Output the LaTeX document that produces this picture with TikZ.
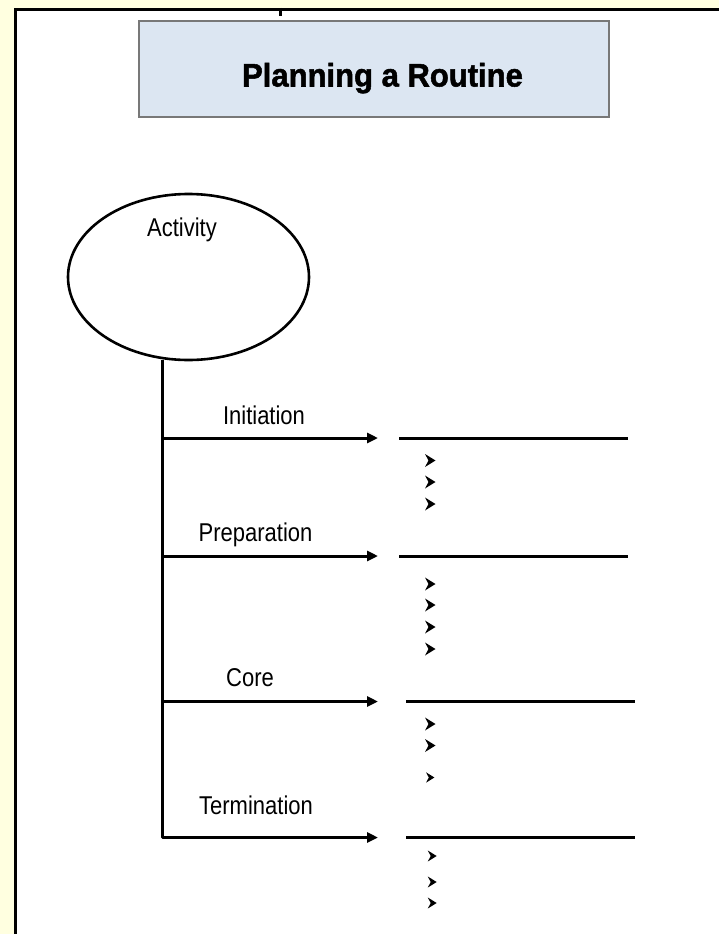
\documentclass[tikz,border=0pt]{standalone}
\usepackage{fontspec}
\setmainfont{Liberation Sans}
\newfontfamily\titlefont[FakeBold=1.6]{Liberation Sans}
\usepackage{graphicx}
\usetikzlibrary{arrows.meta,calc,positioning,shapes.geometric}
\definecolor{bgyellow}{RGB}{255,255,224}
\definecolor{titlefill}{RGB}{220,230,242}
\definecolor{titleedge}{RGB}{120,120,120}
\newcommand{\stretched}[1]{\scalebox{1}[1.17]{#1}}
\tikzset{
	routine/.style={
		x=1pt, y=-1pt,
		every node/.style={inner sep=0pt, outer sep=0pt},
		phase line/.style={line width=3pt, line join=round},
		phase arrow/.style={phase line, -{Triangle[length=11pt,width=10pt]}},
		phase name/.style={anchor=base, font=\fontsize{22}{22}\selectfont},
		title box/.style={draw=titleedge, fill=titlefill, line width=1.5pt,
			minimum width=470, minimum height=96}
		},
	arrowbullet/.pic={\fill (-5,-6.5) -- (5.5,0) -- (-5,6.5) -- (-1.5,0) -- cycle;}
}

\begin{document}
\begin{tikzpicture}[routine]
   \useasboundingbox (0,0) rectangle (719,934);
   % page
   \fill[bgyellow] (0,0) rectangle (719,934);
   \fill[white] (15.5,9.5) rectangle (719,934);
   \draw[line width=3.2pt] (15.5,934) -- (15.5,9.5) -- (719,9.5);
   \draw[line width=3pt] (280,8) -- (280,16);
   % title
   \node[title box] (title) at (374,69) {};
   \node[anchor=base, font=\titlefont\bfseries\fontsize{31}{31}\selectfont] (titletext)
      at (382.5,86.5) {\scalebox{1}[1.05]{Planning a Routine}};
   % activity
   \node[ellipse, draw, line width=2.6pt, minimum width=241, minimum height=166] (act)
      at (188.5,277) {};
   \node[phase name] (actname) at (182,236.5) {\stretched{Activity}};
   % junctions and ends
   \coordinate (iniJ) at (162,438);
   \coordinate (preJ) at (162,556);
   \coordinate (corJ) at (162,701.5);
   \coordinate (terJ) at (162,837.5);
   \coordinate (iniE) at ($(iniJ)+(216,0)$);
   \coordinate (preE) at ($(preJ)+(216,0)$);
   \coordinate (corE) at ($(corJ)+(216,0)$);
   \coordinate (terE) at ($(terJ)+(216,0)$);
   \coordinate (iniL) at (399,438);   \coordinate (iniR) at (628,438);
   \coordinate (preL) at (399,556);   \coordinate (preR) at (628,556);
   \coordinate (corL) at (406,701.5); \coordinate (corR) at (635,701.5);
   \coordinate (terL) at (406,837.5); \coordinate (terR) at (635,837.5);
   % labels
   \node[phase name] (ininame) at (264,424)   {\stretched{Initiation}};
   \node[phase name] (prename) at (255.5,541.7) {\stretched{Preparation}};
   \node[phase name] (corname) at (250,686)   {\stretched{Core}};
   \node[phase name] (tername) at (256,814)   {\stretched{Termination}};
   % connectors
   \draw[phase arrow] (act.south -| terJ) -- (terJ) -- (terE);
   \draw[phase arrow] (iniJ) -- (iniE);
   \draw[phase arrow] (preJ) -- (preE);
   \draw[phase arrow] (corJ) -- (corE);
   \draw[phase line] (iniL) -- (iniR);
   \draw[phase line] (preL) -- (preR);
   \draw[phase line] (corL) -- (corR);
   \draw[phase line] (terL) -- (terR);
   % bullets
   \foreach \by in {460.5,482,504} \pic at (430,\by) {arrowbullet};
   \foreach \by in {584,605,627,649} \pic at (430,\by) {arrowbullet};
   \foreach \by in {724,745.5} \pic at (430,\by) {arrowbullet};
   \pic[scale=0.8] at (430,777.5) {arrowbullet};
   \foreach \by in {856,882,903} \pic[scale=0.85] at (432,\by) {arrowbullet};
\end{tikzpicture}
\end{document}
